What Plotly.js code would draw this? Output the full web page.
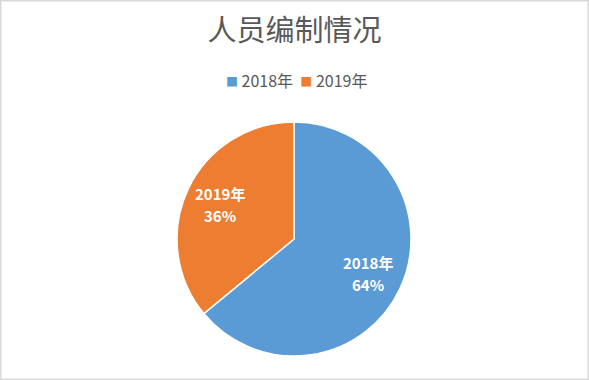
<!DOCTYPE html>
<html>
<head>
<meta charset="utf-8">
<script src="https://cdn.plot.ly/plotly-3.0.1.min.js"></script>
<style>
html,body{margin:0;padding:0;background:#fff;}
#chart{width:589px;height:380px;}
</style>
</head>
<body>
<div id="chart"></div>
<script>
var categories = ["2018年", "2019年"];
var values = [64, 36];
var colors = ["#5B9BD5", "#ED7D31"];
var chartTitle = "人员编制情况";

var font = '"Noto Sans CJK SC", "Noto Sans", sans-serif';
var W = 589, H = 380;
// pie geometry (pixels)
var cxPx = 294, cyPx = 239, rPx = 117;

var trace = {
  type: "pie",
  labels: categories,
  values: values,
  sort: false,
  direction: "clockwise",
  rotation: 0,
  marker: {colors: colors, line: {color: "#ffffff", width: 1.5}},
  textinfo: "none",
  hoverinfo: "label+percent",
  showlegend: false,
  domain: {x: [(cxPx - rPx)/W, (cxPx + rPx)/W], y: [(H - cyPx - rPx)/H, (H - cyPx + rPx)/H]}
};

// data labels placed along each slice's bisector (Excel-style best fit)
var total = values.reduce(function(a, b){ return a + b; }, 0);
var annotations = [];
var cum = 0;
values.forEach(function(v, i){
  var mid = (cum + v / 2) / total * 2 * Math.PI;
  cum += v;
  var d = 0.70 * rPx;
  var x = (cxPx + d * Math.sin(mid)) / W;
  var y = (H - cyPx + d * Math.cos(mid)) / H;
  var pct = Math.round(v / total * 100) + "%";
  [[categories[i], 11], [pct, -11]].forEach(function(p){
    annotations.push({
      xref: "paper", yref: "paper", x: x, y: y, yshift: p[1],
      text: "<b>" + p[0] + "</b>", showarrow: false,
      xanchor: "center", yanchor: "middle",
      font: {family: font, size: 15, color: "#ffffff"}
    });
  });
});

// legend (Excel-style compact squares)
var legendText = categories.map(function(c, i){
  return '<span style="color:' + colors[i] + ';font-size:12px">■</span>\u00a0' + c;
}).join('\u00a0\u00a0');
annotations.push({
  xref: "paper", yref: "paper", x: 296 / W, y: 1 - 80 / H,
  xanchor: "center", yanchor: "middle", showarrow: false,
  text: legendText,
  font: {family: font, size: 16, color: "#595959"}
});

var layout = {
  width: W,
  height: H,
  margin: {l: 0, r: 0, t: 0, b: 0},
  paper_bgcolor: "#ffffff",
  title: {
    text: chartTitle,
    font: {family: font, size: 29, color: "#595959"},
    x: 0.5, xanchor: "center",
    y: 1 - 31/H, yanchor: "middle"
  },
  showlegend: false,
  annotations: annotations,
  shapes: [{
    type: "rect", xref: "paper", yref: "paper",
    x0: 0, x1: 1, y0: 0, y1: 1,
    line: {color: "#d9d9d9", width: 3}
  }]
};

Plotly.newPlot("chart", [trace], layout, {displayModeBar: false, staticPlot: true});
</script>
</body>
</html>
